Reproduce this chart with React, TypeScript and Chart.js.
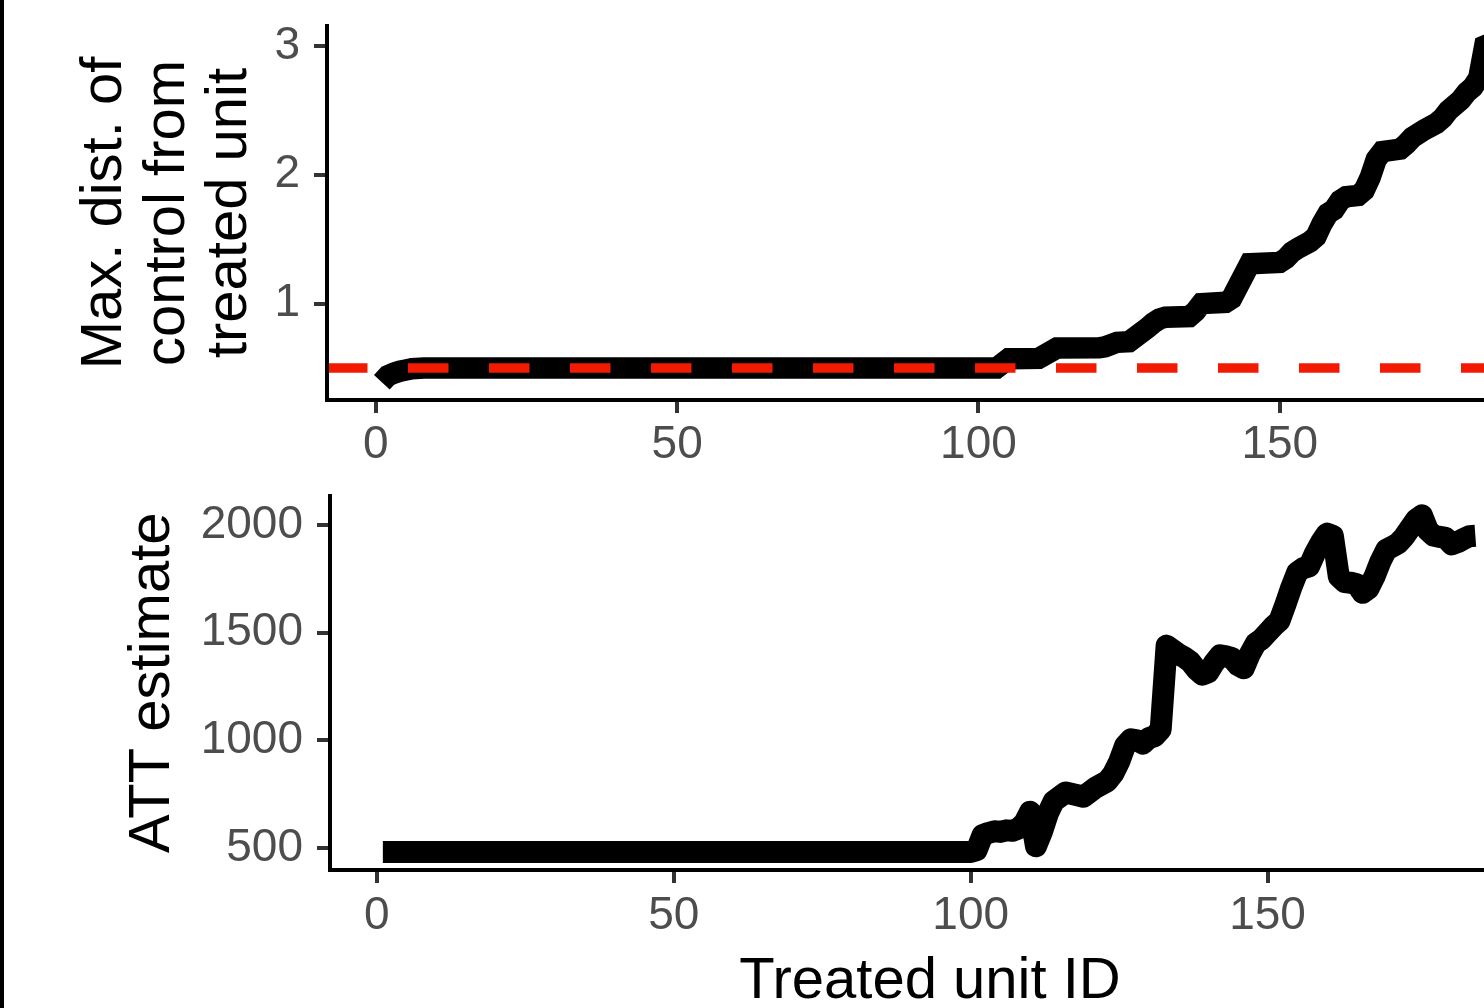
import React, { useEffect, useRef } from "react";
import { Chart, registerables } from "chart.js";

Chart.register(...registerables);

// ---------- data ----------
const topUnitIds = [1, 2, 3, 4, 5, 6, 8, 103, 105, 110, 113, 120, 121, 123, 125, 126, 128, 129, 130, 131, 135, 136, 137, 141, 142, 145, 150, 151, 152, 153, 155, 156, 157, 158, 159, 160, 161, 163, 164, 165, 166, 167, 170, 171, 172, 174, 176, 177, 178, 180, 181, 182, 183, 184, 185];
const topMaxDist = [0.39, 0.44, 0.46, 0.475, 0.485, 0.495, 0.5, 0.5, 0.572, 0.575, 0.655, 0.657, 0.665, 0.7, 0.705, 0.74, 0.81, 0.85, 0.88, 0.895, 0.9, 0.94, 1.0, 1.01, 1.04, 1.31, 1.32, 1.35, 1.4, 1.43, 1.48, 1.52, 1.62, 1.7, 1.73, 1.8, 1.83, 1.84, 1.88, 1.98, 2.12, 2.18, 2.2, 2.24, 2.29, 2.35, 2.4, 2.44, 2.5, 2.58, 2.64, 2.68, 2.75, 3.0, 3.02];
const caliperValue = 0.5;

const attUnitIds = [1, 100, 101, 102, 103, 104, 105, 106, 107, 108, 109, 110, 111, 112, 113, 114, 116, 118, 119, 121, 122, 123, 124, 125, 126, 127, 128, 129, 130, 131, 132, 133, 134, 135, 136, 137, 138, 139, 140, 141, 142, 143, 144, 145, 146, 147, 148, 149, 150, 151, 152, 153, 154, 155, 156, 157, 158, 159, 160, 161, 162, 163, 164, 165, 166, 167, 168, 169, 170, 171, 172, 173, 174, 175, 176, 177, 178, 179, 180, 181, 182, 183, 184, 185];
const attEstimate = [482, 482, 490, 560, 570, 578, 575, 582, 580, 590, 615, 668, 508, 575, 660, 718, 758, 745, 738, 780, 795, 810, 845, 900, 975, 1005, 1000, 985, 1010, 1020, 1050, 1440, 1420, 1400, 1385, 1365, 1330, 1305, 1315, 1360, 1395, 1390, 1382, 1350, 1335, 1400, 1450, 1470, 1500, 1530, 1555, 1630, 1710, 1780, 1800, 1808, 1870, 1920, 1960, 1950, 1760, 1735, 1732, 1725, 1685, 1705, 1760, 1830, 1885, 1900, 1915, 1945, 1985, 2025, 2045, 1975, 1950, 1945, 1940, 1910, 1920, 1935, 1948, 1950];

const xTickValues = [0, 50, 100, 150];
const topYTickValues = [1, 2, 3];
const attYTickValues = [500, 1000, 1500, 2000];

const topYTitle = ["Max. dist. of", "control from", "treated unit"];
const attYTitle = "ATT estimate";
const xTitle = "Treated unit ID";

// ---------- styling ----------
const FONT = "'Liberation Sans', Arial, Helvetica, sans-serif";
const TICK_FONT = { family: FONT, size: 46 };
const TITLE_FONT = { family: FONT, size: 58, lineHeight: 1.078 };

const gridOpts = {
  display: true,
  drawOnChartArea: false,
  drawTicks: true,
  tickLength: 13,
  tickWidth: 4,
  lineWidth: 4,
  tickColor: "#333333",
  color: "#333333",
};
const borderOpts = { display: true, color: "#000000", width: 4, z: 1 };

const setTicks = (values: number[]) => (scale: any) => {
  scale.ticks = values.map((v) => ({ value: v }));
};
const fitBox = (prop: "width" | "height", size: number) => (s: any) => {
  s[prop] = size;
  s.paddingTop = 0;
  s.paddingBottom = 0;
  s.paddingLeft = 0;
  s.paddingRight = 0;
};
const label = (v: any) => String(v);

function topConfig(): any {
  const xMin = -8.1;
  const xMax = 194;
  return {
    type: "line",
    data: {
      datasets: [
        {
          data: topUnitIds.map((x, i) => ({ x, y: topMaxDist[i] })),
          borderColor: "#000000",
          borderWidth: 21.5,
          borderJoinStyle: "miter",
          borderCapStyle: "butt",
          pointRadius: 0,
          tension: 0,
          order: 2,
        },
        {
          data: [
            { x: xMin, y: caliperValue },
            { x: xMax, y: caliperValue },
          ],
          borderColor: "#F21A00",
          borderWidth: 9.5,
          borderDash: [40.5, 40.5],
          borderCapStyle: "butt",
          pointRadius: 0,
          tension: 0,
          order: 1,
        },
      ],
    },
    options: {
      animation: false,
      responsive: false,
      devicePixelRatio: 1,
      events: [],
      layout: { padding: { top: 26, left: 0, right: 0, bottom: 0 }, autoPadding: false },
      plugins: { legend: { display: false }, tooltip: { enabled: false } },
      scales: {
        x: {
          type: "linear",
          min: xMin,
          max: xMax,
          afterBuildTicks: setTicks(xTickValues),
          afterFit: fitBox("height", 80),
          grid: gridOpts,
          border: borderOpts,
          ticks: { color: "#4D4D4D", font: TICK_FONT, padding: 5, maxRotation: 0, autoSkip: false, callback: label },
        },
        y: {
          type: "linear",
          min: 0.252,
          max: 3.155,
          afterBuildTicks: setTicks(topYTickValues),
          afterFit: fitBox("width", 327),
          grid: gridOpts,
          border: borderOpts,
          ticks: { color: "#4D4D4D", font: TICK_FONT, padding: 14, autoSkip: false, callback: label },
          title: {
            display: true,
            text: topYTitle,
            color: "#000000",
            font: TITLE_FONT,
            padding: { top: 74, bottom: 0 },
          },
        },
      },
    },
  };
}

function attConfig(): any {
  const xMin = -7.9;
  const xMax = 194.2;
  return {
    type: "line",
    data: {
      datasets: [
        {
          data: attUnitIds.map((x, i) => ({ x, y: attEstimate[i] })),
          borderColor: "#000000",
          borderWidth: 22,
          borderJoinStyle: "round",
          borderCapStyle: "butt",
          pointRadius: 0,
          tension: 0,
        },
      ],
    },
    options: {
      animation: false,
      responsive: false,
      devicePixelRatio: 1,
      events: [],
      layout: { padding: { top: 15.5, left: 0, right: 0, bottom: 0 }, autoPadding: false },
      plugins: { legend: { display: false }, tooltip: { enabled: false } },
      scales: {
        x: {
          type: "linear",
          min: xMin,
          max: xMax,
          afterBuildTicks: setTicks(xTickValues),
          afterFit: fitBox("height", 150),
          grid: gridOpts,
          border: borderOpts,
          ticks: { color: "#4D4D4D", font: TICK_FONT, padding: 6, maxRotation: 0, autoSkip: false, callback: label },
          title: {
            display: true,
            text: xTitle,
            color: "#000000",
            font: TITLE_FONT,
            padding: { top: 0, bottom: 7 },
          },
        },
        y: {
          type: "linear",
          min: 398,
          max: 2137,
          afterBuildTicks: setTicks(attYTickValues),
          afterFit: fitBox("width", 330),
          grid: gridOpts,
          border: borderOpts,
          ticks: { color: "#4D4D4D", font: TICK_FONT, padding: 14, autoSkip: false, callback: label },
          title: {
            display: true,
            text: attYTitle,
            color: "#000000",
            font: TITLE_FONT,
            padding: { top: 122, bottom: 0 },
          },
        },
      },
    },
  };
}

export default function App() {
  const topRef = useRef<HTMLCanvasElement | null>(null);
  const attRef = useRef<HTMLCanvasElement | null>(null);

  useEffect(() => {
    const charts: Chart[] = [];
    if (topRef.current) charts.push(new Chart(topRef.current, topConfig()));
    if (attRef.current) charts.push(new Chart(attRef.current, attConfig()));
    return () => charts.forEach((c) => c.destroy());
  }, []);

  return (
    <div
      style={{
        position: "fixed",
        left: 0,
        top: 0,
        width: 1484,
        height: 1008,
        overflow: "hidden",
        background: "#ffffff",
      }}
    >
      <canvas
        ref={topRef}
        width={1545}
        height={480}
        style={{ position: "absolute", left: 0, top: 0, width: 1545, height: 480 }}
      />
      <canvas
        ref={attRef}
        width={1530}
        height={540}
        style={{ position: "absolute", left: 0, top: 480, width: 1530, height: 540 }}
      />
      <div style={{ position: "absolute", left: 0, top: 0, width: 4, height: 1008, background: "#000000" }} />
    </div>
  );
}
